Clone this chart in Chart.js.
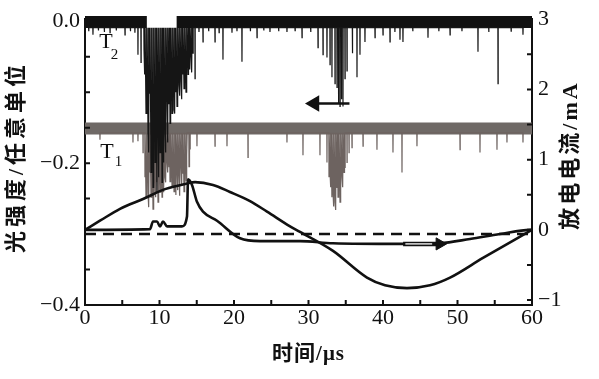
<!DOCTYPE html>
<html><head><meta charset="utf-8">
<script src="https://cdn.jsdelivr.net/npm/chart.js@4/dist/chart.umd.min.js"></script>
<style>html,body{margin:0;padding:0;background:#fff;}#wrap{width:599px;height:379px;}</style>
</head><body><div id="wrap"><canvas id="c" width="599" height="379"></canvas></div>
<script>
// ---------- data ----------
const xTickValues = [0, 10, 20, 30, 40, 50, 60];
const leftTickValues = [0, -0.2, -0.4];
const rightTickValues = [3, 2, 1, 0, -1];

// T2 optical trace (left axis): baseline band + downward spikes
const t2BandT = [0, 8.3, 10, 12.3, 60];
const t2BandV = [-0.001, -0.001, null, -0.001, -0.001];
const t2SpikeBase = -0.009;
const t2SpikeT = [0.5, 1.07, 1.8, 2.6, 3.36, 4.2, 5.37, 6.1, 6.7, 7.11, 7.52, 7.92,
  8.05, 8.19, 8.32, 8.46, 8.59, 8.72, 8.86, 8.99, 9.13, 9.26, 9.40, 9.53, 9.66, 9.80, 9.93, 10.07, 10.20, 10.34, 10.47, 10.60, 10.74, 10.87, 11.01, 11.14, 11.28, 11.41, 11.54, 11.68, 11.81, 11.95, 12.08, 12.21, 12.35, 12.48, 12.62, 12.75, 12.89, 13.02, 13.15, 13.29, 13.42, 13.56, 13.69, 13.83, 13.96, 14.09, 14.23, 14.36, 14.5, 14.77,
  15.3, 15.84, 16.6, 17.45, 18.0, 18.52, 19.73, 20.4, 21.07, 22.2, 23.09, 24.0, 24.83, 26.0, 27.11, 28.2, 29.13, 30.3, 31.28, 31.95, 32.48, 32.89, 33.15, 33.56, 33.83, 34.03, 34.23, 34.43, 34.63, 34.90, 35.17, 35.9, 36.51, 36.91, 37.58, 38.93, 40.00, 40.94, 41.6, 42.28, 42.68, 44.0, 46.04, 47.5, 49.00, 50.6, 52.75, 54.2, 55.44, 57.2, 58.79];
const t2SpikeV = [-0.014, -0.019, -0.013, -0.015, -0.016, -0.013, -0.019, -0.014, -0.016, -0.047, -0.058, -0.040,
  -0.075, -0.130, -0.102, -0.158, -0.185, -0.102, -0.213, -0.158, -0.234, -0.116, -0.199, -0.171, -0.241, -0.144, -0.220, -0.185, -0.171, -0.227, -0.130, -0.199, -0.158, -0.185, -0.109, -0.171, -0.116, -0.144, -0.100, -0.130, -0.095, -0.125, -0.130, -0.100, -0.120, -0.115, -0.090, -0.105, -0.085, -0.110, -0.075, -0.095, -0.070, -0.100, -0.065, -0.075, -0.060, -0.068, -0.050, -0.072, -0.045, -0.081,
  -0.015, -0.029, -0.014, -0.029, -0.016, -0.054, -0.016, -0.014, -0.057, -0.014, -0.023, -0.013, -0.015, -0.014, -0.015, -0.013, -0.023, -0.015, -0.037, -0.047, -0.051, -0.061, -0.079, -0.088, -0.093, -0.115, -0.120, -0.110, -0.120, -0.081, -0.070, -0.045, -0.079, -0.047, -0.029, -0.023, -0.019, -0.029, -0.015, -0.026, -0.029, -0.014, -0.023, -0.014, -0.019, -0.014, -0.043, -0.015, -0.088, -0.014, -0.019];

// T1 optical trace (left axis)
const t1BandT = [0, 60];
const t1BandV = [-0.151, -0.151];
const t1SpikeBase = -0.157;
const t1SpikeT = [2.01, 6.44, 7.11,
  7.79, 8.05, 8.19, 8.32, 8.46, 8.59, 8.72, 8.86, 8.99, 9.13, 9.26, 9.40, 9.53, 9.66, 9.80, 9.93, 10.07, 10.20, 10.34, 10.47, 10.60, 10.74, 10.87, 11.01, 11.14, 11.28, 11.41, 11.54, 11.68, 11.81, 11.95, 12.08, 12.21, 12.35, 12.48, 12.62, 12.75, 12.89, 13.02, 13.15, 13.29, 13.42, 13.56, 13.69, 13.96, 14.1,
  15.03, 17.45, 19.06, 21.88, 27.11, 29.26, 31.54, 32.48, 32.75, 32.89, 33.02, 33.15, 33.29, 33.42, 33.56, 33.69, 33.83, 33.96, 34.09, 34.23, 34.36, 34.50, 34.63, 34.77, 34.90, 35.17, 35.44, 35.84, 37.32, 39.19, 41.34, 42.55, 44.56, 50.34, 53.02, 55.30, 56.64, 58.79];
const t1SpikeV = [-0.167, -0.171, -0.169,
  -0.185, -0.220, -0.248, -0.199, -0.241, -0.262, -0.213, -0.248, -0.234, -0.265, -0.220, -0.241, -0.248, -0.227, -0.255, -0.234, -0.241, -0.213, -0.248, -0.234, -0.241, -0.220, -0.227, -0.199, -0.213, -0.205, -0.226, -0.198, -0.232, -0.215, -0.240, -0.222, -0.245, -0.210, -0.238, -0.220, -0.246, -0.205, -0.232, -0.215, -0.240, -0.200, -0.225, -0.190, -0.205, -0.180,
  -0.176, -0.176, -0.176, -0.192, -0.171, -0.189, -0.189, -0.199, -0.220, -0.213, -0.234, -0.248, -0.241, -0.261, -0.255, -0.266, -0.234, -0.248, -0.227, -0.255, -0.241, -0.220, -0.234, -0.213, -0.206, -0.199, -0.185, -0.178, -0.176, -0.181, -0.185, -0.213, -0.176, -0.181, -0.185, -0.181, -0.171, -0.171];

// discharge current curve (right axis, mA)
const currentT = [0, 8.72, 9.13, 9.66, 10.07, 10.47, 11.01, 13.02, 13.69, 13.83, 14.36, 15.03, 15.84, 17.72, 20.81, 23.49, 28.86, 33.29, 42.28, 47.65, 51.68, 55.70, 59.73, 60];
const currentV = [0, 0.01, 0.12, 0.12, 0.05, 0.12, 0.05, 0.05, 0.19, 0.72, 0.64, 0.40, 0.26, 0.13, -0.12, -0.16, -0.16, -0.19, -0.20, -0.19, -0.13, -0.06, 0.0, 0.0];

// sinusoidal waveform (right axis)
const waveT = [0, 2.01, 4.70, 7.79, 10.74, 13.69, 14.77, 17.18, 19.46, 22.15, 24.43, 27.52, 28.86, 33.29, 37.85, 40.27, 43.22, 46.31, 49.00, 53.42, 58.00, 60];
const waveV = [0, 0.13, 0.30, 0.44, 0.58, 0.66, 0.68, 0.64, 0.54, 0.41, 0.26, 0.05, -0.03, -0.30, -0.68, -0.79, -0.83, -0.79, -0.68, -0.40, -0.12, 0.0];

// dashed zero line (left axis)
const dashedT = [0, 60];
const dashedV = [-0.3, -0.3];

// arrows
const leftArrowT = [30.8, 35.5];
const leftArrowV = [-0.116, -0.116];
const rightArrowT = [42.7, 47.6];
const rightArrowV = [-0.20, -0.20];
const rightArrowInnerT = [43.0, 46.6];

// ---------- helpers ----------
const pts = (ts, vs) => ts.map((t, i) => ({x: t, y: vs[i]}));
function spikes(ts, vs, base, w) {
  const out = [];
  ts.forEach((t, i) => { out.push({x: t - w, y: base}, {x: t, y: vs[i]}, {x: t + w, y: base}); });
  return out;
}
const minus = s => String(s).replace('-', '\u2212');

const SERIF = '"Liberation Serif", "Times New Roman", serif';
const CJK = '"Liberation Serif", "Noto Sans CJK SC", sans-serif';

const decor = {
  id: 'decor',
  afterDraw(chart) {
    const {ctx, chartArea: a, scales: {x, y, y1}} = chart;
    ctx.save();
    // inward ticks
    ctx.strokeStyle = '#111'; ctx.lineWidth = 2;
    ctx.beginPath();
    for (let t = 5; t < 60; t += 5) { const p = x.getPixelForValue(t); ctx.moveTo(p, a.bottom); ctx.lineTo(p, a.bottom - 5); }
    for (let k = 1; k < 8; k++) { const p = y.getPixelForValue(-0.05 * k); ctx.moveTo(a.left, p); ctx.lineTo(a.left + 5, p); }
    for (let k = 0; k <= 8; k++) { const p = y1.getPixelForValue(-1 + 0.5 * k); ctx.moveTo(a.right, p); ctx.lineTo(a.right - 5, p); }
    ctx.stroke();
    // trace labels
    ctx.fillStyle = '#111';
    ctx.textAlign = 'center'; ctx.textBaseline = 'middle';
    ctx.font = '22px ' + SERIF;
    ctx.fillText('T', x.getPixelForValue(2.8), y.getPixelForValue(-0.030));
    ctx.fillText('T', x.getPixelForValue(2.95), y.getPixelForValue(-0.185));
    ctx.font = '15px ' + SERIF;
    ctx.fillText('2', x.getPixelForValue(3.95), y.getPixelForValue(-0.047));
    ctx.fillText('1', x.getPixelForValue(4.5), y.getPixelForValue(-0.198));
    // axis titles
    ctx.font = 'bold 21px ' + CJK;
    ctx.letterSpacing = '1px';
    ctx.fillText('时间/μs', (a.left + a.right) / 2, 355);
    ctx.save();
    ctx.translate(17, 157); ctx.rotate(-Math.PI / 2);
    ctx.font = 'bold 22px ' + CJK; ctx.letterSpacing = '4px';
    ctx.fillText('光强度/任意单位', 0, 0);
    ctx.restore();
    ctx.save();
    ctx.translate(571, 155); ctx.rotate(-Math.PI / 2);
    ctx.font = 'bold 22px ' + CJK; ctx.letterSpacing = '3px';
    ctx.fillText('放电电流/mA', 0, 0);
    ctx.restore();
    ctx.restore();
  }
};

const tickFont = {family: SERIF, size: 22};
new Chart(document.getElementById('c'), {
  type: 'line',
  data: {
    datasets: [
      {data: pts(t1BandT, t1BandV), yAxisID: 'y', borderColor: '#6f6966', borderWidth: 12, pointRadius: 0, clip: false, order: 7},
      {data: spikes(t1SpikeT, t1SpikeV, t1SpikeBase, 0.02), yAxisID: 'y', borderColor: '#6d6360', borderWidth: 1.2, pointRadius: 0, clip: false, order: 6},
      {data: pts(t2BandT, t2BandV), yAxisID: 'y', borderColor: '#111', borderWidth: 12, pointRadius: 0, spanGaps: false, clip: false, order: 5},
      {data: spikes(t2SpikeT, t2SpikeV, t2SpikeBase, 0.02), yAxisID: 'y', borderColor: '#151515', borderWidth: 1.2, pointRadius: 0, clip: false, order: 4},
      {data: pts(dashedT, dashedV), yAxisID: 'y', borderColor: '#111', borderWidth: 2.5, borderDash: [11, 7], pointRadius: 0, clip: false, order: 3},
      {data: pts(waveT, waveV), yAxisID: 'y1', borderColor: '#111', borderWidth: 2.6, pointRadius: 0, cubicInterpolationMode: 'monotone', clip: false, order: 2},
      {data: pts(currentT, currentV), yAxisID: 'y1', borderColor: '#111', borderWidth: 2.6, pointRadius: 0, cubicInterpolationMode: 'monotone', clip: false, order: 2},
      {data: pts(leftArrowT, leftArrowV), yAxisID: 'y', borderColor: '#111', backgroundColor: '#111', borderWidth: 2.5, pointStyle: 'triangle', pointRadius: [7, 0], rotation: -90, clip: false, order: 1},
      {data: pts(rightArrowT, rightArrowV), yAxisID: 'y1', borderColor: '#111', backgroundColor: '#111', borderWidth: 4.5, pointStyle: 'triangle', pointRadius: [0, 7], pointBorderWidth: 1, rotation: 90, clip: false, order: 1},
      {data: pts(rightArrowInnerT, rightArrowV), yAxisID: 'y1', borderColor: '#fff', borderWidth: 1.3, pointRadius: 0, clip: false, order: 0}
    ]
  },
  options: {
    responsive: false, animation: false, devicePixelRatio: 1,
    layout: {padding: {top: 14, left: 0, right: 0, bottom: 0}},
    plugins: {legend: {display: false}, tooltip: {enabled: false}},
    elements: {line: {tension: 0, borderCapStyle: 'butt'}},
    scales: {
      x: {
        type: 'linear', min: 0, max: 60,
        afterFit: s => { s.height = 74; },
        afterBuildTicks: s => { s.ticks = xTickValues.map(v => ({value: v})); },
        ticks: {font: tickFont, color: '#111', padding: 0, maxRotation: 0, callback: v => String(v)},
        grid: {drawOnChartArea: false, drawTicks: false},
        border: {display: true, color: '#111', width: 2}
      },
      y: {
        position: 'left', min: -0.4, max: 0.003,
        afterFit: s => { s.width = 85; },
        afterBuildTicks: s => { s.ticks = leftTickValues.map(v => ({value: v})); },
        ticks: {font: tickFont, color: '#111', padding: 5, callback: v => minus(Number(v).toFixed(1))},
        grid: {drawOnChartArea: false, drawTicks: false},
        border: {display: true, color: '#111', width: 2}
      },
      y1: {
        position: 'right', min: -1.07, max: 3,
        afterFit: s => { s.width = 67; },
        afterBuildTicks: s => { s.ticks = rightTickValues.map(v => ({value: v})); },
        ticks: {font: tickFont, color: '#111', padding: 6, callback: v => minus(Math.round(v))},
        grid: {drawOnChartArea: false, drawTicks: false},
        border: {display: true, color: '#111', width: 2}
      }
    }
  },
  plugins: [decor]
});
</script>
</body></html>
